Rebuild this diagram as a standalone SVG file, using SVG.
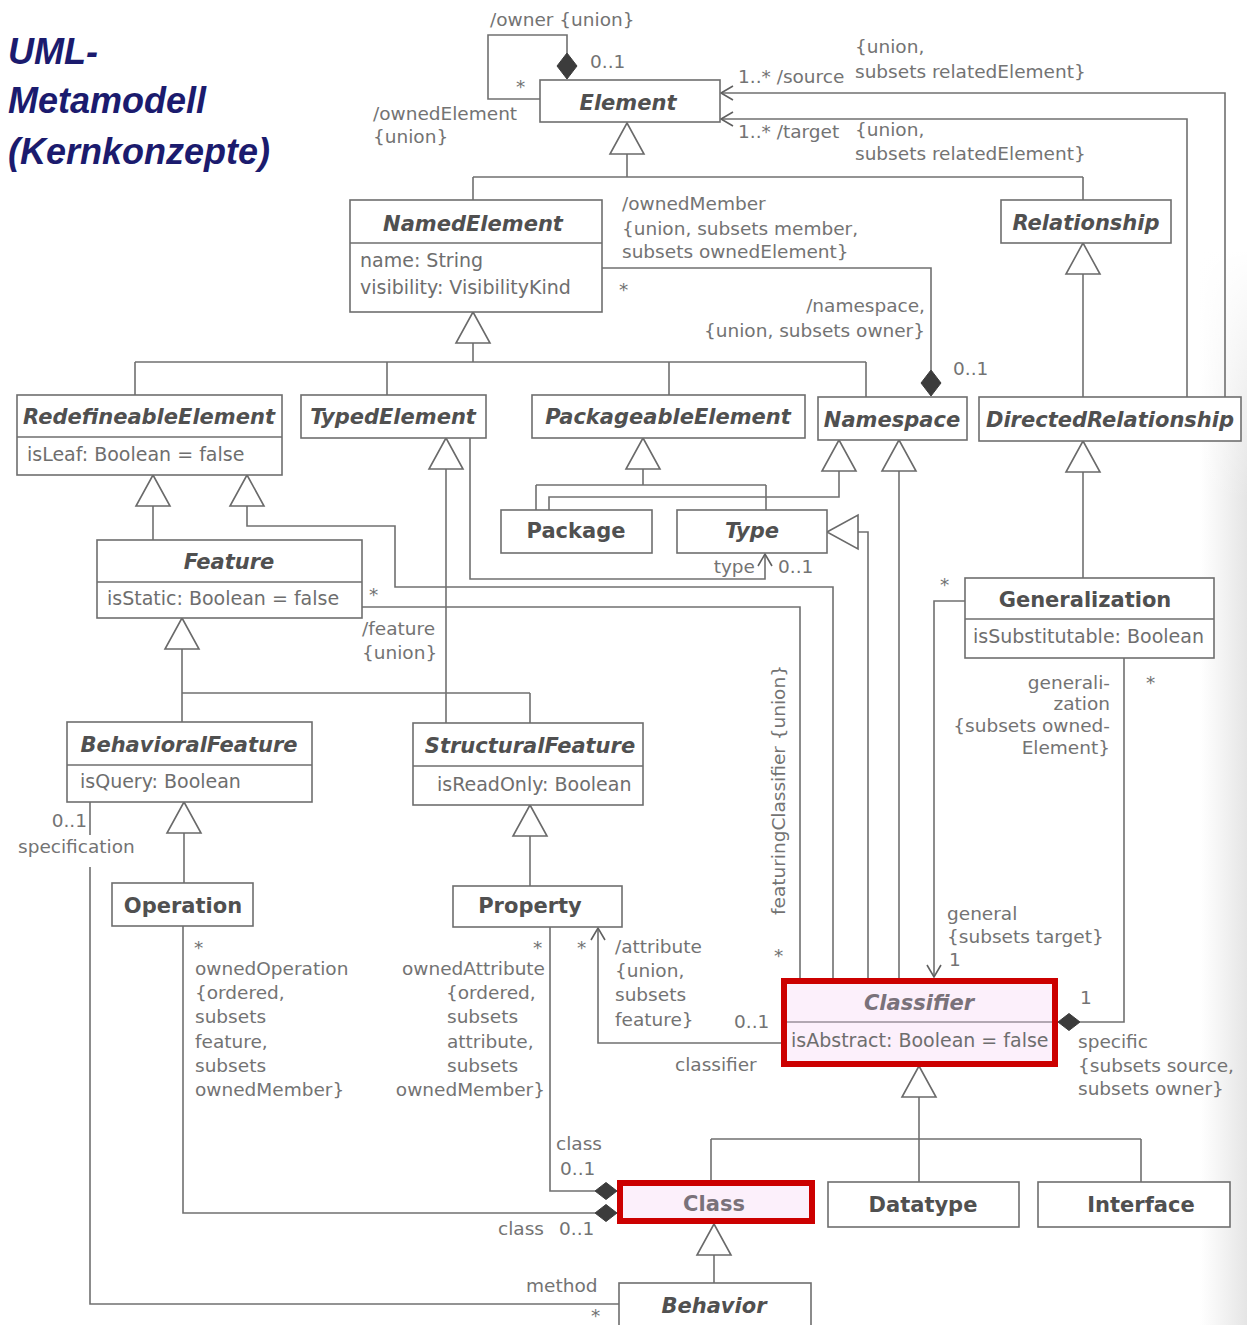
<svg xmlns="http://www.w3.org/2000/svg" width="1247" height="1325" viewBox="0 0 1247 1325">
<defs>
<style>
.box{fill:#fff;stroke:#6e6e6e;stroke-width:1.6}
.hl{fill:#fcf0fb;stroke:#cc0000;stroke-width:6}
.sep{stroke:#6e6e6e;stroke-width:1.4}
.sepl{stroke:#9a8f9a;stroke-width:1.4}
.ln{fill:none;stroke:#707070;stroke-width:1.6}
.gen{fill:#fff;stroke:#6a6a6a;stroke-width:1.6}
.dmd{fill:#3c3c3c;stroke:#3c3c3c;stroke-width:1}
.t{font-family:"DejaVu Sans",sans-serif;font-size:21px;font-weight:bold;fill:#505050;text-anchor:middle}
.i{font-style:italic}
.g{fill:#7a727a}
.at{font-family:"DejaVu Sans",sans-serif;font-size:19px;fill:#6e6e6e}
.lb{font-family:"DejaVu Sans",sans-serif;font-size:18.5px;fill:#737373}
.e{text-anchor:end}
.hd{font-family:"Liberation Sans",Arial,sans-serif;font-size:36px;font-weight:bold;font-style:italic;fill:#1b1b6e}
</style>
<marker id="open" viewBox="-14 -9 16 18" markerWidth="16" markerHeight="18" refX="0" refY="0" orient="auto" markerUnits="userSpaceOnUse">
<path d="M-12,-7 L0,0 L-12,7" fill="none" stroke="#606060" stroke-width="1.6"/>
</marker>
<path id="tri" class="gen" d="M0,0 L17,31 L-17,31 Z"/>
<path id="dv" class="dmd" d="M0,0 L10,13 L0,26 L-10,13 Z"/>
<path id="dh" class="dmd" d="M0,0 L11,-8.5 L22,0 L11,8.5 Z"/>
<linearGradient id="edge" x1="0" y1="0" x2="1" y2="0">
<stop offset="0" stop-color="#d4d4d4" stop-opacity="0"/>
<stop offset="1" stop-color="#cfcfcf" stop-opacity="0.55"/>
</linearGradient>
<linearGradient id="fade" x1="0" y1="0" x2="0" y2="1">
<stop offset="0" stop-color="#fff" stop-opacity="0"/>
<stop offset="1" stop-color="#fff" stop-opacity="1"/>
</linearGradient>
</defs>

<rect x="0" y="0" width="1247" height="1325" fill="#fff"/>
<!-- paper shading along the right edge, stronger towards the bottom -->
<rect x="1200" y="250" width="47" height="1075" fill="url(#edge)"/>
<rect x="1200" y="250" width="47" height="250" fill="url(#fade)" transform="rotate(180 1223.5 375)"/>

<!-- heading -->
<g id="heading">
<text class="hd" x="8" y="64">UML-</text>
<text class="hd" x="8" y="113">Metamodell</text>
<text class="hd" x="8" y="164">(Kernkonzepte)</text>
</g>

<!-- connectors -->
<g id="connectors">
<!-- owner / ownedElement self association -->
<path class="ln" d="M540,99 H488 V35 H567 V53"/>
<use href="#dv" x="567" y="53"/>
<!-- Element generalization -->
<path class="ln" d="M627,154 V177 M473,177 H1083 M473,177 V200 M1083,177 V200"/>
<use href="#tri" x="627" y="123"/>
<!-- source / target -->
<path class="ln" d="M1225,397 V93 H721" marker-end="url(#open)"/>
<path class="ln" d="M1187,397 V119 H721" marker-end="url(#open)"/>
<!-- ownedMember / namespace -->
<path class="ln" d="M602,268 H931 V370"/>
<use href="#dv" x="931" y="370"/>
<!-- NamedElement generalization -->
<path class="ln" d="M473,343 V362 M135,362 H866 M135,362 V395 M387,362 V395 M669,362 V395 M866,362 V397"/>
<use href="#tri" x="473" y="312"/>
<!-- Relationship generalization -->
<path class="ln" d="M1083,274 V397"/>
<use href="#tri" x="1083" y="243"/>
<!-- RedefineableElement generalizations -->
<path class="ln" d="M153,506 V540"/>
<use href="#tri" x="153" y="475"/>
<path class="ln" d="M247,506 V526 H395 V587 H833 V978"/>
<use href="#tri" x="247" y="475"/>
<!-- feature / featuringClassifier -->
<path class="ln" d="M362,607 H800 V978"/>
<!-- TypedElement generalization -->
<path class="ln" d="M446,469 V723"/>
<use href="#tri" x="446" y="438"/>
<!-- type -->
<path class="ln" d="M470,438 V579 H765 V554" marker-end="url(#open)"/>
<!-- PackageableElement generalization -->
<path class="ln" d="M643,469 V485 M536,485 H766 M536,485 V510 M766,485 V510"/>
<use href="#tri" x="643" y="438"/>
<!-- Namespace generalizations -->
<path class="ln" d="M839,471 V497 H549 V510"/>
<use href="#tri" x="839" y="440"/>
<path class="ln" d="M899,471 V978"/>
<use href="#tri" x="899" y="440"/>
<!-- Type generalization -->
<path class="ln" d="M858,532 H868 V978"/>
<use href="#tri" transform="translate(827,532) rotate(-90)"/>
<!-- DirectedRelationship generalization -->
<path class="ln" d="M1083,472 V578"/>
<use href="#tri" x="1083" y="441"/>
<!-- general -->
<path class="ln" d="M965,601 H934 V977" marker-end="url(#open)"/>
<!-- generalization / specific -->
<path class="ln" d="M1124,658 V1022 H1080"/>
<use href="#dh" x="1058" y="1022"/>
<!-- Feature generalization -->
<path class="ln" d="M182,649 V693 H530 M182,693 V722 M530,693 V723"/>
<use href="#tri" x="182" y="618"/>
<!-- BehavioralFeature / StructuralFeature generalizations -->
<path class="ln" d="M184,833 V883"/>
<use href="#tri" x="184" y="802"/>
<path class="ln" d="M530,836 V886"/>
<use href="#tri" x="530" y="805"/>
<!-- attribute / classifier -->
<path class="ln" d="M781,1043 H598 V928" marker-end="url(#open)"/>
<!-- ownedAttribute / class -->
<path class="ln" d="M550,927 V1191 H595"/>
<use href="#dh" x="595" y="1191"/>
<!-- ownedOperation / class -->
<path class="ln" d="M183,926 V1213 H595"/>
<use href="#dh" x="595" y="1213"/>
<!-- Classifier generalization -->
<path class="ln" d="M919,1097 V1139 M711,1139 H1141 M711,1139 V1180 M919,1139 V1182 M1141,1139 V1182"/>
<use href="#tri" x="919" y="1066"/>
<!-- Class generalization -->
<path class="ln" d="M714,1255 V1283"/>
<use href="#tri" x="714" y="1224"/>
<!-- specification / method -->
<path class="ln" d="M90,802 V835 M90,867 V1304 H619"/>
</g>

<!-- association labels -->
<g id="labels">
<text class="lb" x="490" y="26">/owner {union}</text>
<text class="lb" x="590" y="68">0..1</text>
<text class="lb" x="516" y="93">*</text>
<text class="lb" x="373" y="120">/ownedElement</text>
<text class="lb" x="373" y="143">{union}</text>
<text class="lb" x="738" y="83">1..* /source</text>
<text class="lb" x="855" y="53">{union,</text>
<text class="lb" x="855" y="78">subsets relatedElement}</text>
<text class="lb" x="738" y="138">1..* /target</text>
<text class="lb" x="855" y="136">{union,</text>
<text class="lb" x="855" y="160">subsets relatedElement}</text>
<text class="lb" x="622" y="210">/ownedMember</text>
<text class="lb" x="622" y="235">{union, subsets member,</text>
<text class="lb" x="622" y="258">subsets ownedElement}</text>
<text class="lb" x="619" y="296">*</text>
<text class="lb e" x="925" y="312">/namespace,</text>
<text class="lb e" x="925" y="337">{union, subsets owner}</text>
<text class="lb" x="953" y="375">0..1</text>
<text class="lb" x="369" y="601">*</text>
<text class="lb" x="362" y="635">/feature</text>
<text class="lb" x="362" y="659">{union}</text>
<text class="lb e" x="755" y="573">type</text>
<text class="lb" x="778" y="573">0..1</text>
<text class="lb" x="940" y="591">*</text>
<text class="lb" x="1146" y="689">*</text>
<text class="lb e" x="1110" y="689">generali-</text>
<text class="lb e" x="1110" y="710">zation</text>
<text class="lb e" x="1110" y="732">{subsets owned-</text>
<text class="lb e" x="1110" y="754">Element}</text>
<text class="lb" transform="translate(785,915) rotate(-90)">featuringClassifier {union}</text>
<text class="lb" x="774" y="962">*</text>
<text class="lb" x="947" y="920">general</text>
<text class="lb" x="947" y="943">{subsets target}</text>
<text class="lb" x="949" y="966">1</text>
<text class="lb" x="1080" y="1004">1</text>
<text class="lb" x="1078" y="1048">specific</text>
<text class="lb" x="1078" y="1072">{subsets source,</text>
<text class="lb" x="1078" y="1095">subsets owner}</text>
<text class="lb e" x="87" y="827">0..1</text>
<text class="lb" x="18" y="853">specification</text>
<text class="lb" x="194" y="954">*</text>
<text class="lb" x="195" y="975">ownedOperation</text>
<text class="lb" x="195" y="999">{ordered,</text>
<text class="lb" x="195" y="1023">subsets</text>
<text class="lb" x="195" y="1048">feature,</text>
<text class="lb" x="195" y="1072">subsets</text>
<text class="lb" x="195" y="1096">ownedMember}</text>
<text class="lb" x="533" y="954">*</text>
<text class="lb e" x="545" y="975">ownedAttribute</text>
<text class="lb" x="446" y="999">{ordered,</text>
<text class="lb" x="447" y="1023">subsets</text>
<text class="lb" x="447" y="1048">attribute,</text>
<text class="lb" x="447" y="1072">subsets</text>
<text class="lb e" x="545" y="1096">ownedMember}</text>
<text class="lb" x="577" y="954">*</text>
<text class="lb" x="615" y="953">/attribute</text>
<text class="lb" x="615" y="977">{union,</text>
<text class="lb" x="615" y="1001">subsets</text>
<text class="lb" x="615" y="1026">feature}</text>
<text class="lb" x="734" y="1028">0..1</text>
<text class="lb" x="675" y="1071">classifier</text>
<text class="lb" x="556" y="1150">class</text>
<text class="lb" x="560" y="1175">0..1</text>
<text class="lb" x="498" y="1235">class</text>
<text class="lb" x="559" y="1235">0..1</text>
<text class="lb" x="526" y="1292">method</text>
<text class="lb" x="591" y="1322">*</text>
</g>

<!-- classes -->
<g id="Element">
<rect class="box" x="540" y="80" width="180" height="42"/>
<text class="t i" x="628" y="110">Element</text>
</g>
<g id="NamedElement">
<rect class="box" x="350" y="200" width="252" height="112"/>
<line class="sep" x1="350" y1="243" x2="602" y2="243"/>
<text class="t i" x="473" y="231">NamedElement</text>
<text class="at" x="360" y="267">name: String</text>
<text class="at" x="360" y="294">visibility: VisibilityKind</text>
</g>
<g id="Relationship">
<rect class="box" x="1001" y="200" width="170" height="43"/>
<text class="t i" x="1086" y="230">Relationship</text>
</g>
<g id="RedefineableElement">
<rect class="box" x="17" y="395" width="265" height="80"/>
<line class="sep" x1="17" y1="437" x2="282" y2="437"/>
<text class="t i" x="149" y="424">RedefineableElement</text>
<text class="at" x="27" y="461">isLeaf: Boolean = false</text>
</g>
<g id="TypedElement">
<rect class="box" x="301" y="395" width="185" height="43"/>
<text class="t i" x="393" y="424">TypedElement</text>
</g>
<g id="PackageableElement">
<rect class="box" x="532" y="395" width="273" height="43"/>
<text class="t i" x="668" y="424">PackageableElement</text>
</g>
<g id="Namespace">
<rect class="box" x="818" y="397" width="149" height="43"/>
<text class="t i" x="892" y="427">Namespace</text>
</g>
<g id="DirectedRelationship">
<rect class="box" x="979" y="397" width="262" height="44"/>
<text class="t i" x="1110" y="427">DirectedRelationship</text>
</g>
<g id="Package">
<rect class="box" x="501" y="510" width="151" height="43"/>
<text class="t" x="576" y="538">Package</text>
</g>
<g id="Type">
<rect class="box" x="677" y="510" width="150" height="43"/>
<text class="t i" x="752" y="538">Type</text>
</g>
<g id="Feature">
<rect class="box" x="97" y="540" width="265" height="78"/>
<line class="sep" x1="97" y1="582" x2="362" y2="582"/>
<text class="t i" x="229" y="569">Feature</text>
<text class="at" x="107" y="605">isStatic: Boolean = false</text>
</g>
<g id="Generalization">
<rect class="box" x="965" y="578" width="249" height="80"/>
<line class="sep" x1="965" y1="619" x2="1214" y2="619"/>
<text class="t" x="1085" y="607">Generalization</text>
<text class="at" x="973" y="643">isSubstitutable: Boolean</text>
</g>
<g id="BehavioralFeature">
<rect class="box" x="67" y="722" width="245" height="80"/>
<line class="sep" x1="67" y1="765" x2="312" y2="765"/>
<text class="t i" x="189" y="752">BehavioralFeature</text>
<text class="at" x="80" y="788">isQuery: Boolean</text>
</g>
<g id="StructuralFeature">
<rect class="box" x="413" y="723" width="230" height="82"/>
<line class="sep" x1="413" y1="766" x2="643" y2="766"/>
<text class="t i" x="530" y="753">StructuralFeature</text>
<text class="at" x="437" y="791">isReadOnly: Boolean</text>
</g>
<g id="Operation">
<rect class="box" x="112" y="883" width="141" height="43"/>
<text class="t" x="183" y="913">Operation</text>
</g>
<g id="Property">
<rect class="box" x="453" y="886" width="169" height="41"/>
<text class="t" x="530" y="913">Property</text>
</g>
<g id="Classifier">
<rect class="hl" x="784" y="981" width="271" height="83"/>
<line class="sepl" x1="787" y1="1022" x2="1052" y2="1022"/>
<text class="t i g" x="919" y="1010">Classifier</text>
<text class="at" x="791" y="1047">isAbstract: Boolean = false</text>
</g>
<g id="Class">
<rect class="hl" x="620" y="1183" width="192" height="38"/>
<text class="t g" x="714" y="1211">Class</text>
</g>
<g id="Datatype">
<rect class="box" x="828" y="1182" width="191" height="45"/>
<text class="t" x="923" y="1212">Datatype</text>
</g>
<g id="Interface">
<rect class="box" x="1038" y="1182" width="192" height="45"/>
<text class="t" x="1141" y="1212">Interface</text>
</g>
<g id="Behavior">
<rect class="box" x="619" y="1283" width="192" height="52"/>
<text class="t i" x="714" y="1313">Behavior</text>
</g>
</svg>
